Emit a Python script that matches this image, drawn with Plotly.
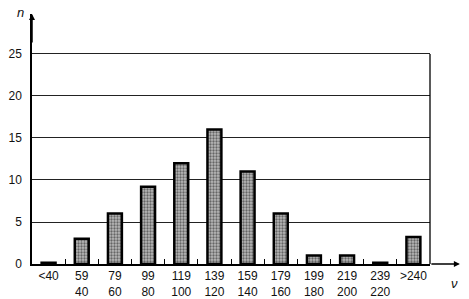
import plotly.graph_objects as go

categories = ["&lt;40", "59<br>40", "79<br>60", "99<br>80", "119<br>100", "139<br>120",
              "159<br>140", "179<br>160", "199<br>180", "219<br>200", "239<br>220", ">240"]
counts = [0.15, 3, 6, 9.2, 12, 16, 11, 6, 1, 1, 0.15, 3.2]
y_ticks = [0, 5, 10, 15, 20, 25]

fig = go.Figure()
fig.add_trace(go.Bar(
    x=categories, y=counts, width=0.42,
    marker=dict(color="#9a9a9a", line=dict(color="black", width=2.5),
                pattern=dict(shape=".", fgcolor="#111", bgcolor="#b8b8b8", size=3, solidity=0.45)),
))

fig.update_layout(
    width=469, height=299,
    margin=dict(l=32, r=39, t=14, b=35),
    plot_bgcolor="white", paper_bgcolor="white",
    showlegend=False, bargap=0.5,
    font=dict(family="Liberation Sans, Arial", size=12, color="#111"),
    xaxis=dict(type="category", showline=True, linecolor="black", linewidth=1.5,
               ticks="inside", tickson="boundaries", ticklen=5, tickcolor="black",
               showgrid=False, range=[-0.5, 11.5], tickfont=dict(size=12),
               tickangle=0, automargin=False),
    yaxis=dict(range=[0, 29.76], tickvals=y_ticks, showline=True, linecolor="black",
               linewidth=1.5, showgrid=True, gridcolor="#222", gridwidth=1.2,
               zeroline=False, ticks="", ticklabelstandoff=6, tickfont=dict(size=12),
               automargin=False),
)

# right border up to 25
fig.add_shape(type="line", xref="paper", yref="y", x0=1, x1=1, y0=0, y1=25,
              line=dict(color="black", width=1.3))
# arrows
fig.add_annotation(xref="paper", yref="paper", x=0, y=1, ax=0, ay=30, text="",
                   showarrow=True, arrowhead=2, arrowsize=0.8, arrowwidth=1.5, arrowcolor="black")
fig.add_annotation(xref="paper", yref="paper", x=1.075, y=0, ax=-30, ay=0, text="",
                   showarrow=True, arrowhead=2, arrowsize=0.8, arrowwidth=1.5, arrowcolor="black")
fig.add_annotation(xref="paper", yref="paper", x=-0.015, y=1.045, text="<i>n</i>",
                   showarrow=False, xanchor="right", font=dict(size=13))
fig.add_annotation(xref="paper", yref="paper", x=1.075, y=-0.115, text="<i>ν</i>",
                   showarrow=False, font=dict(size=13))

fig.write_html("out.html")
